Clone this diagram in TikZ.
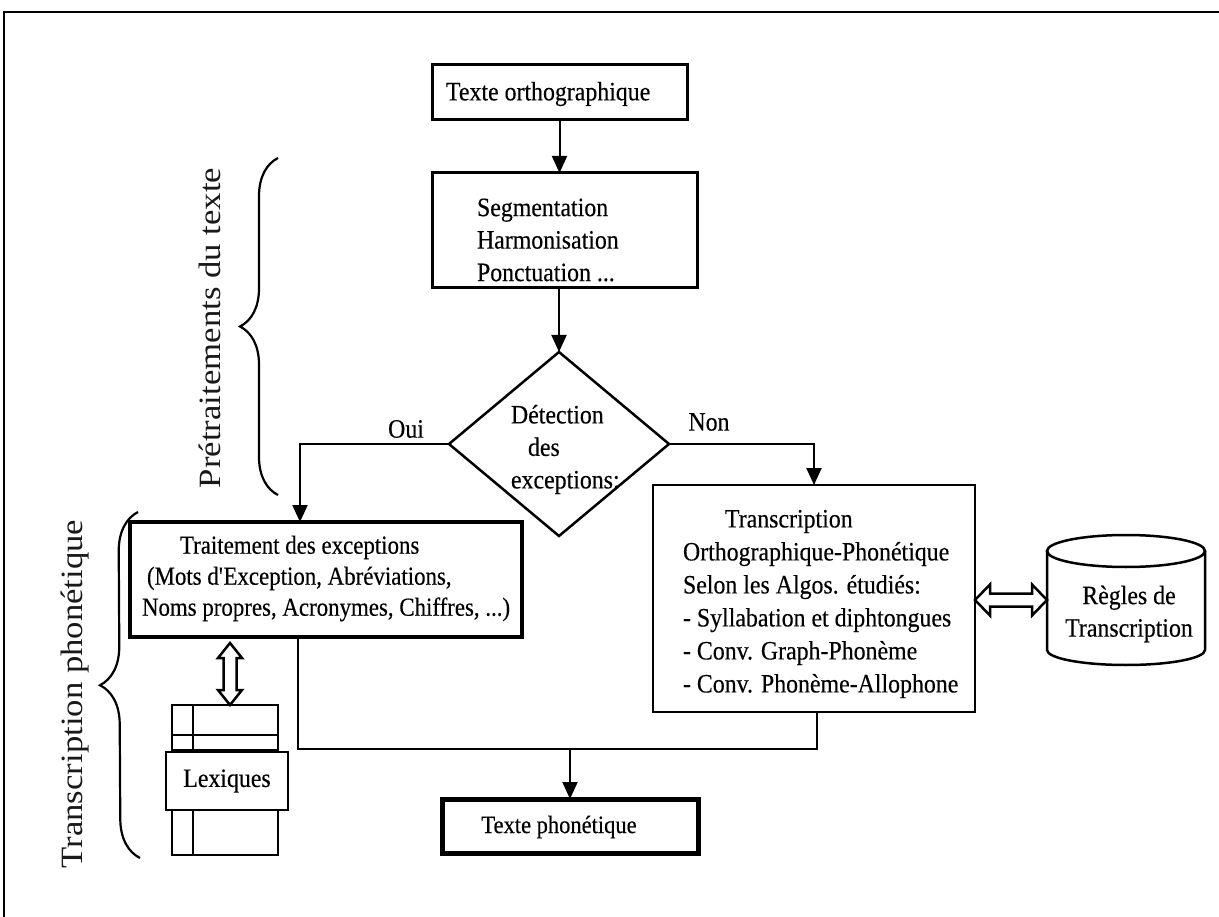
\documentclass[tikz,border=0pt]{standalone}
\usepackage{fontspec}
\setmainfont{Liberation Serif}[FakeStretch=0.9, FakeBold=0.3]
\newfontfamily\sidefont{Liberation Serif}[FakeStretch=1.12]
\usetikzlibrary{arrows.meta,shapes.geometric,decorations.pathreplacing,calc}

\begin{document}
\begin{tikzpicture}[x=1pt,y=-1pt,
  every node/.style={inner sep=0pt, outer sep=0pt},
  txt/.style={font=\fontsize{26.5}{32.5}\selectfont},
  box/.style={draw, rectangle, line width=#1},
  link/.style={line width=2pt, -{Triangle[length=17pt,width=15pt]}},
  wire/.style={line width=2pt},
  hollow/.style={line width=2.5pt, line join=miter},
  sidelabel/.style={font=\sidefont\fontsize{31}{36}\selectfont, rotate=90, text=black!90},
  bracket/.style={decorate, decoration={brace, amplitude=#1}, line width=2.2pt}
]
\useasboundingbox (0,0) rectangle (1219,917);

% outer frame (top and left edges)
\draw[line width=2pt] (3.5,917) -- (3.5,12.5) -- (1219,12.5);

% main flow
\node[box=3pt, minimum width=255pt, minimum height=55pt] (b1) at (559.5,92.5) {};
\node[txt, anchor=west] (t1) at (446,94) {Texte orthographique};

\node[box=3pt, minimum width=265pt, minimum height=115pt] (b2) at (564.5,230.5) {};
\node[txt, anchor=west, align=left] (t2) at (477,240) {Segmentation\\Harmonisation\\Ponctuation ...};

\node[diamond, draw, line width=2.5pt, minimum width=220pt, minimum height=184pt] (dec) at (559,444) {};
\node[txt, anchor=west, align=left] (t3) at (511,449.5) {Détection\\\hspace*{17pt}des\\exceptions:};

\node[txt] (oui) at (406,429) {Oui};
\node[txt] (non) at (709,422) {Non};

\node[box=4pt, minimum width=392pt, minimum height=115pt] (b3) at (326,579.5) {};
\node[txt, font=\fontsize{26}{31}\selectfont\addfontfeature{FakeStretch=0.88}, anchor=west, align=left] (t4) at (142,578.5)
  {\hspace*{38pt}Traitement des exceptions\\\hspace*{5pt}(Mots d\textquotesingle Exception, Abréviations,\\Noms propres, Acronymes, Chiffres, ...)};

\node[box=2.5pt, minimum width=322pt, minimum height=227pt] (b4) at (814,598.5) {};
\node[txt, font=\fontsize{26.5}{33}\selectfont, anchor=west, align=left] (t5) at (683,604) {\hspace*{42pt}Transcription\\Orthographique-Phonétique\\Selon les Algos. étudiés:\\- Syllabation et diphtongues\\- Conv. Graph-Phonème\\- Conv. Phonème-Allophone};

\node[box=5pt, minimum width=256pt, minimum height=54pt] (b5) at (570,826) {};
\node[txt, font=\fontsize{25}{28}\selectfont] (t8) at (559,827) {Texte phonétique};

% rule base (cylinder)
\node[minimum width=158pt, minimum height=130pt] (cyl) at (1126,600) {};
\draw[line width=2.5pt] ([yshift=-16pt]cyl.north west) -- ([yshift=15pt]cyl.south west)
  arc[start angle=180, end angle=360, x radius=79pt, y radius=15pt] -- ([yshift=-16pt]cyl.north east);
\draw[line width=2.5pt] ([yshift=-16pt]cyl.north) ellipse [x radius=79pt, y radius=16pt];
\node[txt, align=center] (t6) at (1129,614) {Règles de\\Transcription};

% lexicon stack
\node[draw, line width=2.5pt, minimum width=106pt, minimum height=45pt] (tab2) at (225,832.5) {};
\draw[line width=2.5pt] ([xshift=21pt]tab2.north west) -- ([xshift=21pt]tab2.south west);
\node[draw, line width=2.5pt, minimum width=106pt, minimum height=45pt] (tab) at (225,727.5) {};
\draw[line width=2.5pt] ([yshift=15pt]tab.south west) -- ([yshift=15pt]tab.south east);
\draw[line width=2.5pt] ([xshift=21pt]tab.north west) -- ([xshift=21pt]tab.south west);
\node[txt, draw, fill=white, line width=2.5pt, minimum width=122pt, minimum height=58pt] (lex) at (227,781) {Lexiques};

% connectors
\draw[link] (b1.south) -- (b1.south |- b2.north);
\draw[link] (dec.north |- b2.south) -- (dec.north);
\draw[link] (dec.west) -| ([xshift=-26pt]b3.north);
\draw[link] (dec.east) -| (b4.north);
\coordinate (m) at ([yshift=50pt]b5.north);
\draw[wire] ([xshift=-28pt]b3.south) |- (m) -| ([xshift=3pt]b4.south);
\draw[link] (m) -- (b5.north);

% two-way hollow arrows
\draw[hollow] let \p1=(b4.east|-cyl.center), \p2=(cyl.west) in
  (\x1,\y1) -- ++(15pt,15.5pt) -- ++(0pt,-9pt) -- (\x2-15pt,\y1+6.5pt) -- ++(0pt,9pt)
  -- (\x2,\y1) -- ++(-15pt,-15.5pt) -- ++(0pt,9pt) -- (\x1+15pt,\y1-6.5pt) -- ++(0pt,-9pt) -- cycle;
\draw[hollow] let \p1=(b3.south), \p2=(tab.north) in
  (\x2+5pt,\y1-6pt) -- ++(12pt,-15pt) -- ++(-5.5pt,0pt) -- (\x2+11.5pt,\y2+15pt) -- ++(5.5pt,0pt)
  -- (\x2+5pt,\y2) -- ++(-12pt,15pt) -- ++(5.5pt,0pt) -- (\x2-1.5pt,\y1-21pt) -- ++(-5.5pt,0pt) -- cycle;

% braces and their labels
\draw[bracket=38pt] (278,495) -- (278,158);
\draw[bracket=39pt] (140,858) -- (138,512);
\node[sidelabel] (pre) at (210,328) {Prétraitements du texte};
\node[sidelabel] (tra) at (75,694) {Transcription phonétique};
\end{tikzpicture}
\end{document}
